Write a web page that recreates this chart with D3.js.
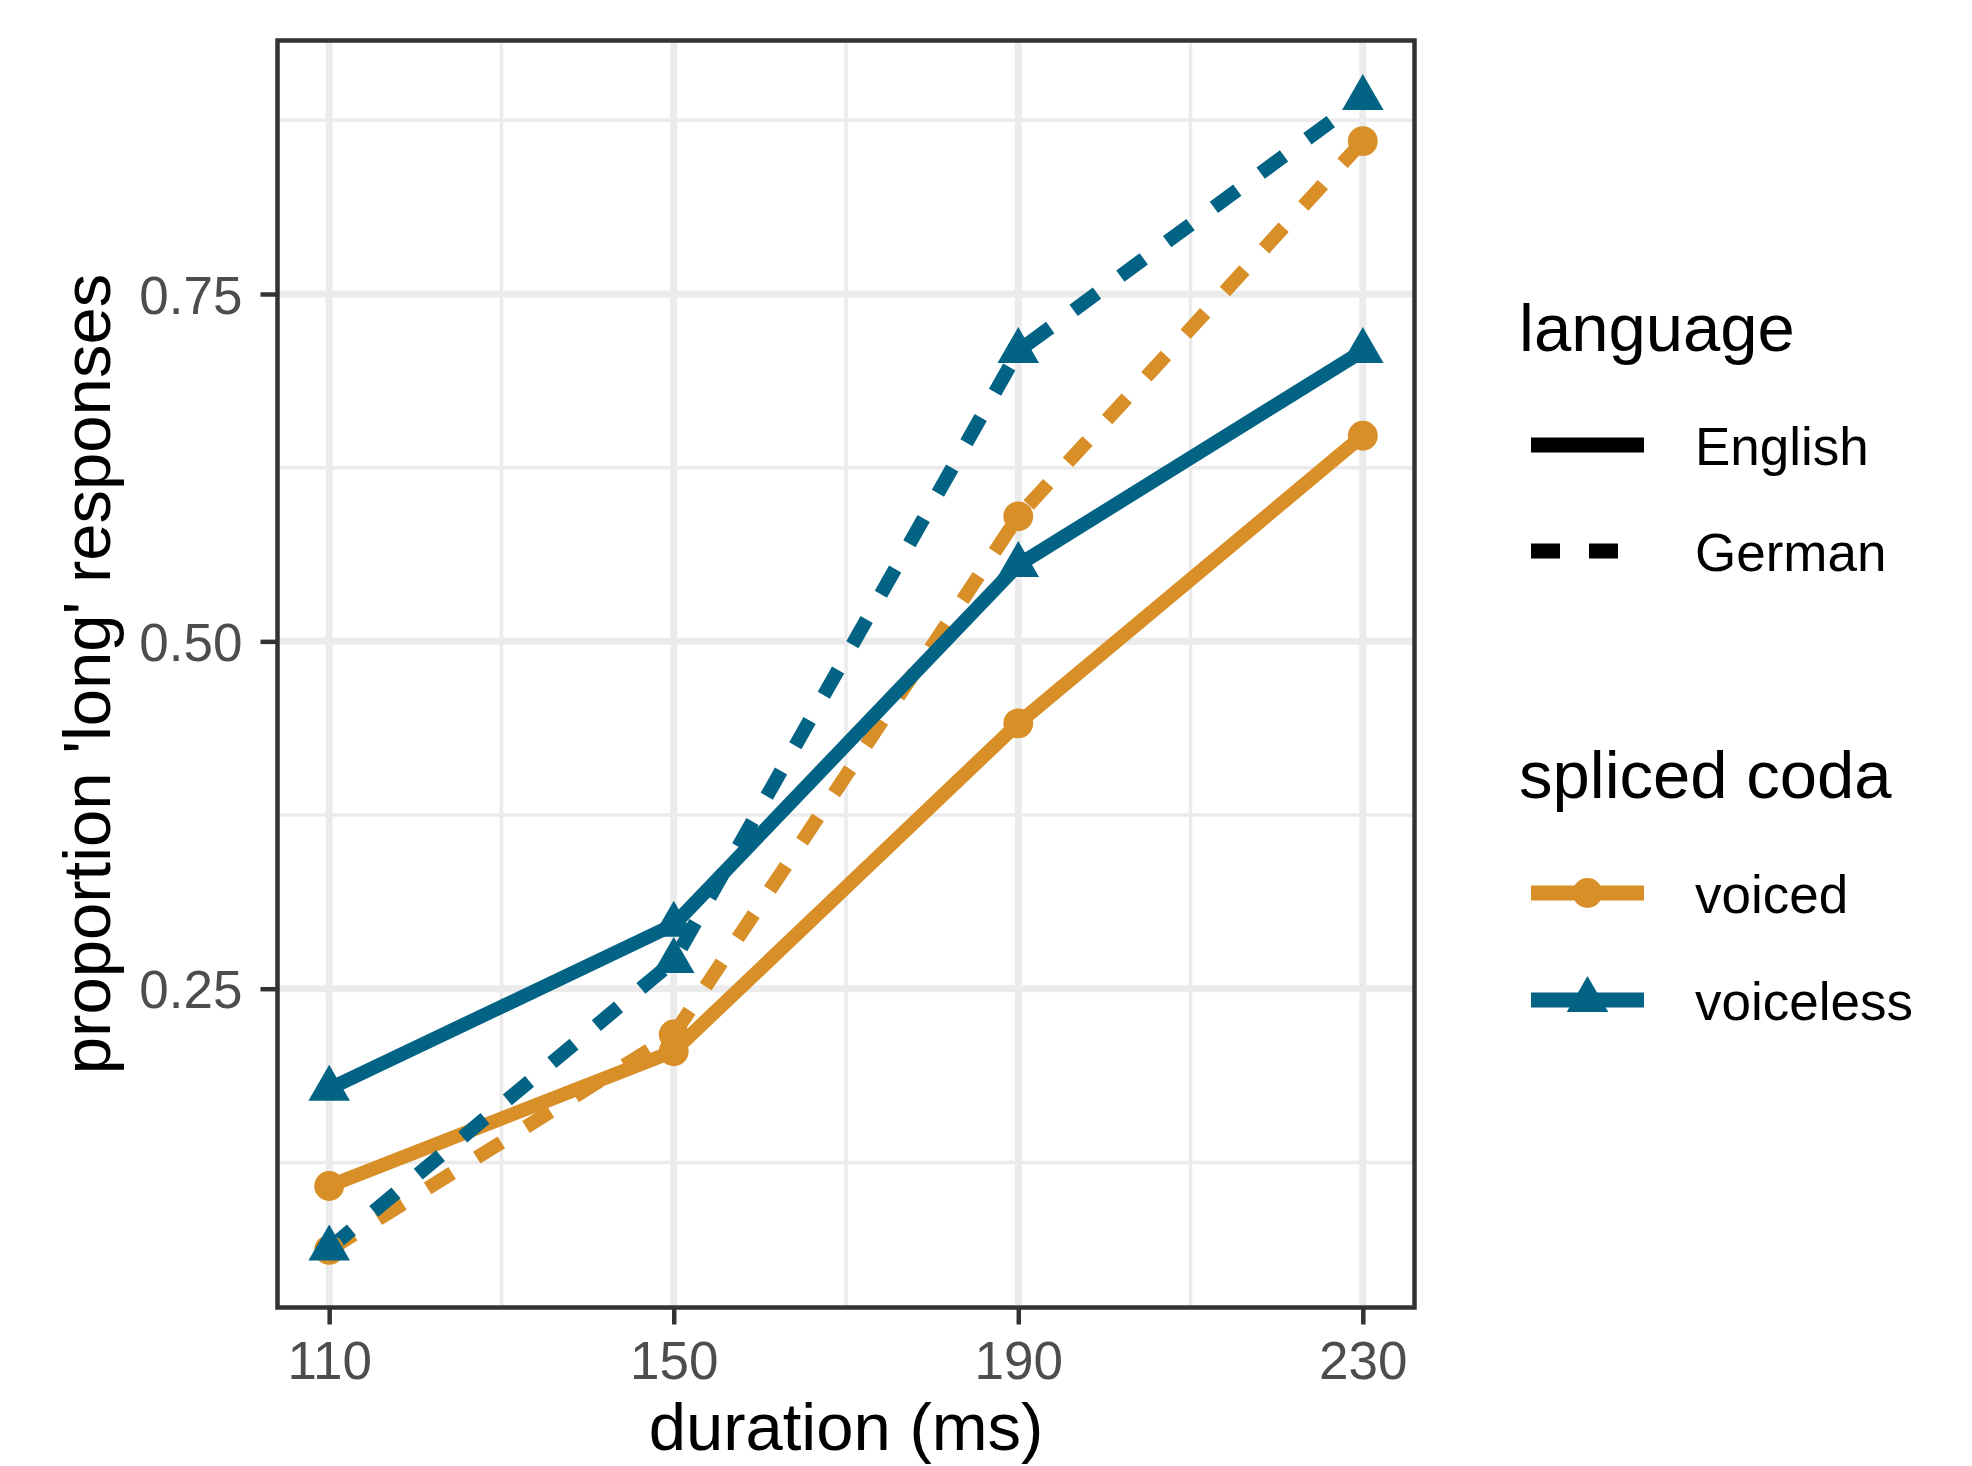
<!DOCTYPE html>
<html>
<head>
<meta charset="utf-8">
<script src="https://cdn.jsdelivr.net/npm/d3@7"></script>
<style>
body { margin: 0; background: #fff; }
text { font-family: "Liberation Sans", Arial, sans-serif; }
</style>
</head>
<body>
<svg id="chart" width="1972" height="1466"></svg>
<script>
// data
var durations = [110, 150, 190, 230];
var englishVoiced = [0.108, 0.205, 0.441, 0.648];
var germanVoiced = [0.062, 0.217, 0.590, 0.860];
var englishVoiceless = [0.178, 0.296, 0.555, 0.709];
var germanVoiceless = [0.063, 0.270, 0.709, 0.891];
var yTicks = [0.25, 0.50, 0.75];
var languages = ["English", "German"];
var codas = ["voiced", "voiceless"];

// draw order follows ggplot's group order
var series = [
  {language: "English", coda: "voiced", values: englishVoiced},
  {language: "German", coda: "voiced", values: germanVoiced},
  {language: "English", coda: "voiceless", values: englishVoiceless},
  {language: "German", coda: "voiceless", values: germanVoiceless}
];

var svg = d3.select("#chart");
var panel = {left: 277.5, right: 1414.5, top: 40.5, bottom: 1307.5};

var colour = d3.scaleOrdinal().domain(codas).range(["#D98F27", "#026384"]);
var dash = d3.scaleOrdinal().domain(languages).range(["none", "29,29"]);
var shape = d3.scaleOrdinal().domain(codas).range([d3.symbolCircle, d3.symbolTriangle]);
var shapeSize = d3.scaleOrdinal().domain(codas).range([700, 748]);
var lineWidth = 14;

// 5% expansion like ggplot
function expand(ext) {
  var pad = (ext[1] - ext[0]) * 0.05;
  return [ext[0] - pad, ext[1] + pad];
}

var allValues = d3.merge(series.map(function(s) { return s.values; }));
var x = d3.scaleLinear().domain(expand(d3.extent(durations))).range([panel.left, panel.right]);
var y = d3.scaleLinear().domain(expand(d3.extent(allValues))).range([panel.bottom, panel.top]);

// minor breaks halfway between major ones
function minors(major, domain) {
  var step = major[1] - major[0];
  var out = [major[0] - step / 2];
  major.forEach(function(m) { out.push(m + step / 2); });
  return out.filter(function(v) { return v >= domain[0] && v <= domain[1]; });
}
var xMinor = minors(durations, x.domain());
var yMinor = minors(yTicks, y.domain());

var grid = svg.append("g").attr("class", "grid");
grid.selectAll(".xminor").data(xMinor).enter().append("line")
  .attr("x1", x).attr("x2", x).attr("y1", panel.top).attr("y2", panel.bottom)
  .attr("stroke", "#EBEBEB").attr("stroke-width", 3.5);
grid.selectAll(".yminor").data(yMinor).enter().append("line")
  .attr("y1", y).attr("y2", y).attr("x1", panel.left).attr("x2", panel.right)
  .attr("stroke", "#EBEBEB").attr("stroke-width", 3.5);
grid.selectAll(".xmajor").data(durations).enter().append("line")
  .attr("x1", x).attr("x2", x).attr("y1", panel.top).attr("y2", panel.bottom)
  .attr("stroke", "#EBEBEB").attr("stroke-width", 7);
grid.selectAll(".ymajor").data(yTicks).enter().append("line")
  .attr("y1", y).attr("y2", y).attr("x1", panel.left).attr("x2", panel.right)
  .attr("stroke", "#EBEBEB").attr("stroke-width", 7);

// lines
var line = d3.line()
  .x(function(d, i) { return x(durations[i]); })
  .y(function(d) { return y(d); });

svg.append("g").selectAll("path").data(series).enter().append("path")
  .attr("d", function(s) { return line(s.values); })
  .attr("fill", "none")
  .attr("stroke", function(s) { return colour(s.coda); })
  .attr("stroke-width", lineWidth)
  .attr("stroke-linejoin", "round")
  .attr("stroke-dasharray", function(s) { return dash(s.language); });

// points
var pts = svg.append("g");
series.forEach(function(s) {
  pts.selectAll(null).data(s.values).enter().append("path")
    .attr("transform", function(d, i) { return "translate(" + x(durations[i]) + "," + y(d) + ")"; })
    .attr("d", d3.symbol().type(shape(s.coda)).size(shapeSize(s.coda)))
    .attr("fill", colour(s.coda));
});

// panel border
svg.append("rect")
  .attr("x", panel.left).attr("y", panel.top)
  .attr("width", panel.right - panel.left).attr("height", panel.bottom - panel.top)
  .attr("fill", "none").attr("stroke", "#333333").attr("stroke-width", 4.5);

// axes
var xAxis = svg.append("g")
  .attr("transform", "translate(0," + panel.bottom + ")")
  .call(d3.axisBottom(x).tickValues(durations).tickSize(17).tickPadding(17).tickFormat(d3.format("d")));
var yAxis = svg.append("g")
  .attr("transform", "translate(" + panel.left + ",0)")
  .call(d3.axisLeft(y).tickValues(yTicks).tickSize(17).tickPadding(18).tickFormat(d3.format(".2f")));

[xAxis, yAxis].forEach(function(a) {
  a.select(".domain").remove();
  a.selectAll(".tick line").attr("stroke", "#333333").attr("stroke-width", 4.5);
  a.selectAll(".tick text")
    .attr("fill", "#4D4D4D")
    .style("font-size", "53px")
    .style("font-family", "'Liberation Sans', Arial, sans-serif");
});
yAxis.selectAll(".tick text").attr("dy", "0.36em");

svg.append("text")
  .attr("x", (panel.left + panel.right) / 2).attr("y", 1450)
  .attr("text-anchor", "middle").style("font-size", "67px")
  .text("duration (ms)");
svg.append("text")
  .attr("transform", "translate(110," + (panel.top + panel.bottom) / 2 + ") rotate(-90)")
  .attr("text-anchor", "middle").style("font-size", "67px")
  .text("proportion 'long' responses");

// legends
var keyX1 = 1531, keyX2 = 1644, labelX = 1695, titleX = 1519;

var legLang = svg.append("g");
legLang.append("text").attr("x", titleX).attr("y", 351).style("font-size", "67px").text("language");
languages.forEach(function(l, i) {
  var ky = 445 + i * 106;
  legLang.append("line")
    .attr("x1", keyX1).attr("x2", keyX2).attr("y1", ky).attr("y2", ky)
    .attr("stroke", "#000").attr("stroke-width", lineWidth + 1)
    .attr("stroke-dasharray", dash(l));
  legLang.append("text").attr("x", labelX).attr("y", ky + 20)
    .style("font-size", "53px").text(l);
});

var legCoda = svg.append("g");
legCoda.append("text").attr("x", titleX).attr("y", 798).style("font-size", "67px").text("spliced coda");
codas.forEach(function(c, i) {
  var ky = 893 + i * 107;
  legCoda.append("line")
    .attr("x1", keyX1).attr("x2", keyX2).attr("y1", ky).attr("y2", ky)
    .attr("stroke", colour(c)).attr("stroke-width", lineWidth + 1);
  legCoda.append("path")
    .attr("transform", "translate(" + (keyX1 + keyX2) / 2 + "," + ky + ")")
    .attr("d", d3.symbol().type(shape(c)).size(shapeSize(c)))
    .attr("fill", colour(c));
  legCoda.append("text").attr("x", labelX).attr("y", ky + 20)
    .style("font-size", "53px").text(c);
});
</script>
</body>
</html>
